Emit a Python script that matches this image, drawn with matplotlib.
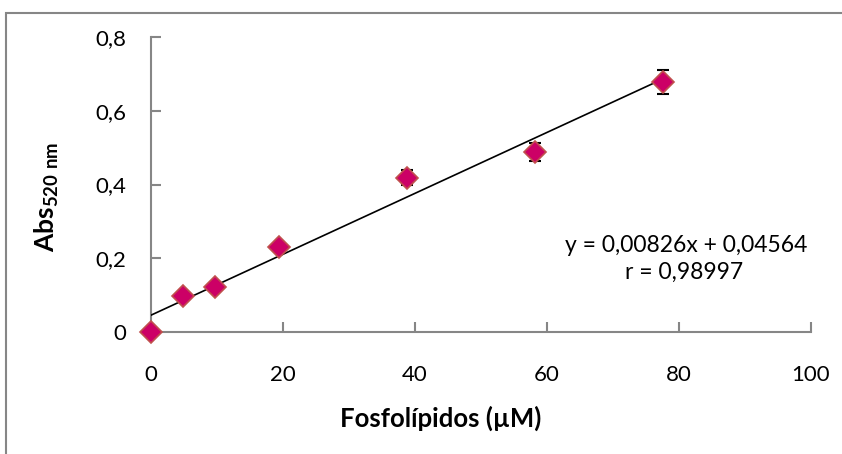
import numpy as np
import matplotlib.pyplot as plt
from matplotlib.patches import Rectangle

# Data
fosfolipidos = [0.0, 4.85, 9.7, 19.4, 38.8, 58.2, 77.6]
absorbancia = [0.0, 0.098, 0.122, 0.231, 0.418, 0.488, 0.678]
err = [0.0, 0.0, 0.0, 0.0, 0.02, 0.024, 0.033]

slope = 0.00826
intercept = 0.04564
r_value = 0.98997

x_ticks = [0, 20, 40, 60, 80, 100]
y_ticks = [0, 0.2, 0.4, 0.6, 0.8]
y_ticklabels = ["0", "0,2", "0,4", "0,6", "0,8"]

plt.rcParams['font.family'] = ['Lato', 'DejaVu Sans']
plt.rcParams['mathtext.fontset'] = 'custom'
plt.rcParams['mathtext.bf'] = 'Lato:bold'
plt.rcParams['mathtext.rm'] = 'Lato'


def coma(v):
    return f'{v:.5f}'.replace('.', ',')


fig = plt.figure(figsize=(8.42, 4.54), dpi=100)
ax = fig.add_axes([151 / 842, 1 - 332 / 454, 660 / 842, 295 / 454])

gray = '#868686'

# Regression line
x_fit = np.array([0, max(fosfolipidos)])
ax.plot(x_fit, slope * x_fit + intercept, color='black', lw=1.2, zorder=3)

# Points with error bars
ax.errorbar(fosfolipidos, absorbancia, yerr=err, fmt='none', ecolor='black',
            elinewidth=1.2, capsize=4, capthick=1.5, zorder=2)
ax.plot(fosfolipidos, absorbancia, 'D', ms=11, mfc='#CC0066', mec='#C0504D',
        mew=1.2, zorder=4, clip_on=False)

ax.set_xlim(0, 100)
ax.set_ylim(0, 0.8)
ax.set_xticks(x_ticks)
ax.set_yticks(y_ticks)
ax.set_yticklabels(y_ticklabels)

for s in ['top', 'right']:
    ax.spines[s].set_visible(False)
for s in ['left', 'bottom']:
    ax.spines[s].set_color(gray)
    ax.spines[s].set_linewidth(1.5)
ax.tick_params(direction='in', length=7, width=1.5, color=gray, labelsize=16)
ax.tick_params(axis='x', pad=24)
ax.tick_params(axis='y', pad=18)

fig.text(441 / 842, 1 - 418 / 454, 'Fosfolípidos (µM)', fontsize=18.5,
         fontweight='bold', ha='center', va='center')
fig.text(47 / 842, 1 - 197 / 454, r'$\mathbf{Abs_{520\ nm}}$', rotation=90,
         fontsize=19, ha='center', va='center')

fig.text(686 / 842, 1 - 245 / 454,
         f'y = {coma(slope)}x + {coma(intercept)}',
         fontsize=16.5, ha='center', va='center')
fig.text(684 / 842, 1 - 272 / 454, 'r = ' + coma(r_value),
         fontsize=16.5, ha='center', va='center')

# Outer chart frame
fig.patches.append(Rectangle((6 / 842, -0.1), 1.2, 1 - 13 / 454 + 0.1,
                             transform=fig.transFigure, fill=False,
                             edgecolor=gray, lw=1.5))

fig.savefig('out.png', dpi=100)
